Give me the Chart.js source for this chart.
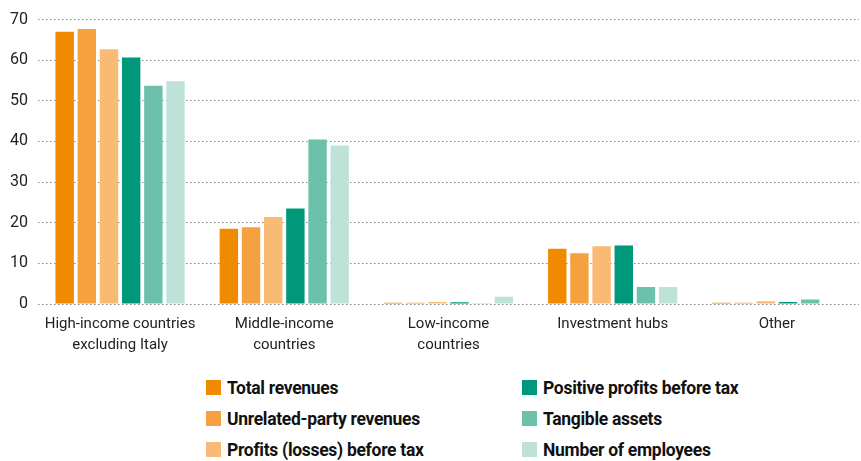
<!DOCTYPE html>
<html>
<head>
<meta charset="utf-8">
<script src="https://cdn.jsdelivr.net/npm/chart.js@4"></script>
<style>
  body { margin: 0; background: #fff; font-family: Roboto, sans-serif; }
  #wrap { position: relative; width: 861px; height: 364px; }
  #legend { position: absolute; top: 372px; left: 206px; width: 620px;
            display: grid; grid-template-columns: 316px 300px; grid-auto-flow: column;
            grid-template-rows: repeat(3, 31px); }
  .item { display: flex; align-items: center; font-weight: bold; font-size: 17.5px; color: #111; letter-spacing: -0.3px; }
  .box { width: 15px; height: 15px; margin-right: 6px; flex: none; }
</style>
</head>
<body>
<div id="wrap"><canvas id="myChart" width="861" height="364"></canvas></div>
<div id="legend"></div>
<script>
const categories = [
    ['High-income countries', 'excluding Italy'],
    ['Middle-income', 'countries'],
    ['Low-income', 'countries'],
    'Investment hubs',
    'Other'
];
const seriesNames = [
    'Total revenues',
    'Unrelated-party revenues',
    'Profits (losses) before tax',
    'Positive profits before tax',
    'Tangible assets',
    'Number of employees'
];
const totalRevenues = [67.0, 18.5, 0.3, 13.6, 0.3];
const unrelatedRevenues = [67.7, 18.9, 0.3, 12.5, 0.3];
const profitsBeforeTax = [62.7, 21.4, 0.5, 14.2, 0.7];
const positiveProfits = [60.7, 23.5, 0.4, 14.4, 0.5];
const tangibleAssets = [53.7, 40.5, 0.2, 4.2, 1.1];
const employees = [54.8, 39.0, 1.8, 4.2, 0.1];
const yTicks = [0, 10, 20, 30, 40, 50, 60, 70];

const colors = ['#F08A00', '#F5A13F', '#F9BA73', '#00987A', '#6CC1AB', '#BFE2D8'];
const allSeries = [totalRevenues, unrelatedRevenues, profitsBeforeTax, positiveProfits, tangibleAssets, employees];

const ctx = document.getElementById('myChart');
new Chart(ctx, {
    type: 'bar',
    data: {
        labels: categories,
        datasets: allSeries.map((d, i) => ({
            label: seriesNames[i],
            data: d,
            backgroundColor: colors[i],
            borderWidth: 0,
            categoryPercentage: 0.81,
            barPercentage: 0.83
        }))
    },
    options: {
        responsive: false,
        animation: false,
        layout: { padding: { top: 5, right: 2, left: 0, bottom: 6 } },
        plugins: { legend: { display: false }, tooltip: { enabled: false } },
        scales: {
            x: {
                grid: { display: false },
                border: { display: false },
                ticks: { color: '#222', font: { family: 'Roboto', size: 15, lineHeight: 1.4 }, padding: 2 }
            },
            y: {
                min: 0,
                max: 70,
                afterBuildTicks: axis => { axis.ticks = yTicks.map(v => ({ value: v })); },
                grid: { color: '#888', lineWidth: 1, drawTicks: false },
                border: { display: false, dash: [1.5, 2.5] },
                ticks: { color: '#222', font: { family: 'Roboto', size: 16 }, padding: 10 }
            }
        }
    }
});

const legend = document.getElementById('legend');
seriesNames.forEach((name, i) => {
    const el = document.createElement('div');
    el.className = 'item';
    el.innerHTML = '<span class="box" style="background:' + colors[i] + '"></span>' + name;
    legend.appendChild(el);
});
</script>
</body>
</html>
